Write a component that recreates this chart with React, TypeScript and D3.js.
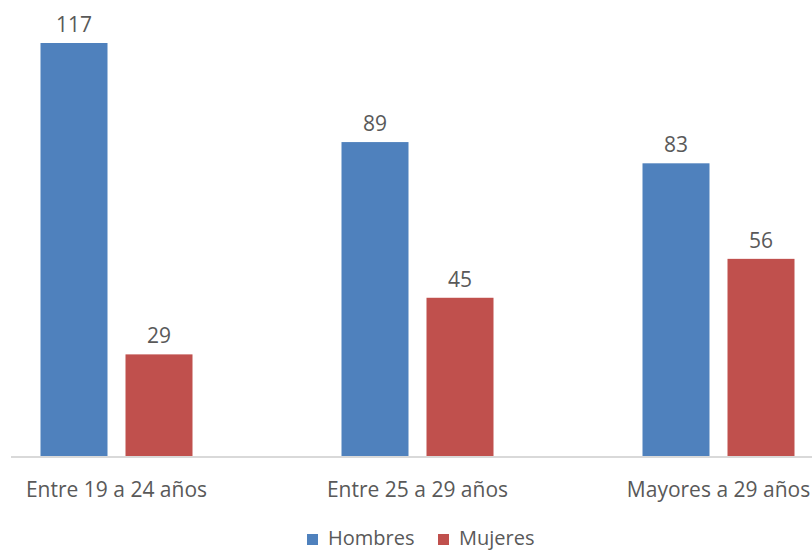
import React from "react";
import * as d3 from "d3";

const categories = ["Entre 19 a 24 años", "Entre 25 a 29 años", "Mayores a 29 años"];
const seriesNames = ["Hombres", "Mujeres"];
const hombres = [117, 89, 83];
const mujeres = [29, 45, 56];
const colors = ["#4F81BD", "#C0504D"];

const W = 812;
const H = 550;

export default function App() {
  const baseY = 457;
  const y = d3.scaleLinear().domain([0, 117]).range([baseY, 43]);
  const x = d3.scaleBand<string>().domain(categories).range([-34, 869]).paddingInner(0).paddingOuter(0);
  const barW = 67;
  const gap = 18;
  const values = [hombres, mujeres];
  const font = "'Open Sans', sans-serif";
  const textColor = "#595959";

  return (
    <svg width={W} height={H} style={{ position: "absolute", left: 0, top: 0, background: "#fff" }}>
      {categories.map((c, i) => {
        const center = (x(c) as number) + x.bandwidth() / 2;
        const groupLeft = center - (2 * barW + gap) / 2;
        return (
          <g key={c}>
            {values.map((vals, s) => {
              const bx = groupLeft + s * (barW + gap);
              const v = vals[i];
              return (
                <g key={s}>
                  <rect x={bx} y={y(v)} width={barW} height={baseY - y(v)} fill={colors[s]} />
                  <text
                    x={bx + barW / 2}
                    y={y(v) - 11}
                    textAnchor="middle"
                    fontFamily={font}
                    fontSize={21}
                    fill={textColor}
                  >
                    {v}
                  </text>
                </g>
              );
            })}
            <text x={center} y={497} textAnchor="middle" fontFamily={font} fontSize={21} fill={textColor}>
              {c}
            </text>
          </g>
        );
      })}
      <line x1={11} x2={W} y1={baseY} y2={baseY} stroke="#D9D9D9" strokeWidth={2} />
      {seriesNames.map((n, s) => {
        const lx = s === 0 ? 307 : 438;
        return (
          <g key={n}>
            <rect x={lx} y={534} width={11} height={11} fill={colors[s]} />
            <text x={lx + 21} y={545} fontFamily={font} fontSize={20} fill={textColor}>
              {n}
            </text>
          </g>
        );
      })}
    </svg>
  );
}
